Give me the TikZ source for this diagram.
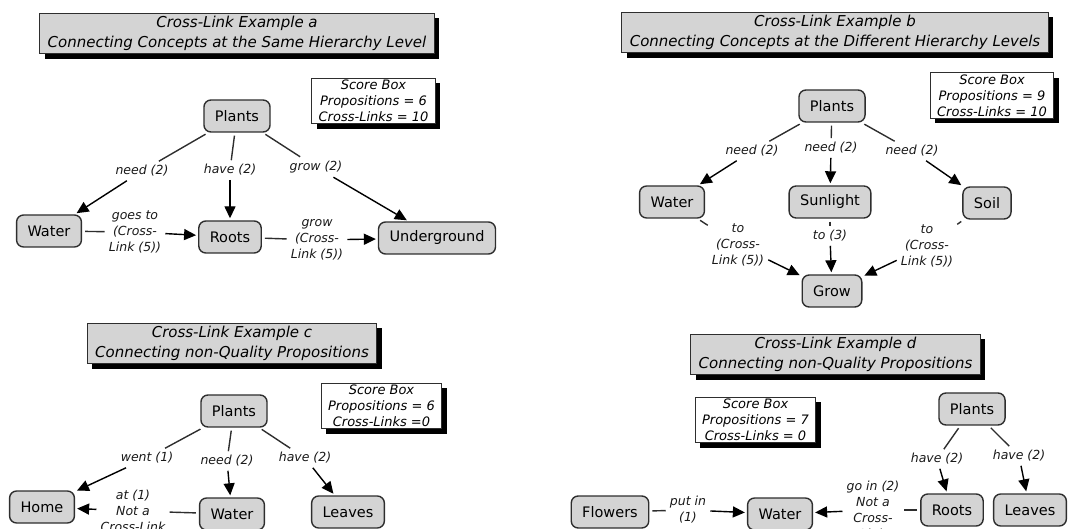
\documentclass[tikz,border=0pt]{standalone}
\usepackage{fontspec}
\setmainfont{DejaVu Sans}
\usetikzlibrary{shadows,arrows.meta}

\definecolor{conceptgray}{HTML}{D4D4D4}
\definecolor{inkgray}{HTML}{2E2E2E}

\tikzset{
	concept/.style={draw=inkgray,line width=1.4pt,fill=conceptgray,rounded corners=7pt,
		minimum height=32pt,inner xsep=11pt,text=black,font=\fontsize{14.5}{17}\selectfont},
	linking/.style={align=center,inner sep=4pt,text=black!90,font=\fontsize{12.5}{16}\selectfont\itshape},
	heading/.style={draw=inkgray,line width=1pt,fill=conceptgray,align=center,inner xsep=8pt,inner ysep=3pt,
		text=black,font=\fontsize{15}{20}\selectfont\itshape,
		drop shadow={shadow xshift=5pt,shadow yshift=-5pt,fill=black,opacity=1}},
	score/.style={draw=inkgray,line width=1pt,fill=white,align=center,inner xsep=7pt,inner ysep=2pt,
		text=black,font=\fontsize{13}{16}\selectfont\itshape,
		drop shadow={shadow xshift=5pt,shadow yshift=-5pt,fill=black,opacity=1}},
	plain/.style={draw=inkgray,line width=1.4pt,shorten <=3pt},
	arrowed/.style={draw=black,line width=1.4pt,shorten >=2pt,-{Triangle[length=12pt,width=11pt]}}
}

\begin{document}
\begin{tikzpicture}[x=1pt,y=-1pt]
	\useasboundingbox (0,0) rectangle (1080,529);
	\clip (0,0) rectangle (1080,529);

	% example a
	\node[heading] (titleA) at (237,33.5) {Cross-Link Example a\\Connecting Concepts at the Same Hierarchy Level};
	\node[score] (scoreA) at (373.5,101) {Score Box\\Propositions = 6\\Cross-Links = 10};
	\node[concept] (plantsA) at (237,116) {Plants};
	\node[concept] (waterA) at (49,231) {Water};
	\node[concept] (rootsA) at (230,237) {Roots};
	\node[concept] (undergrA) at (437,238) {Underground};
	\node[linking] (needA) at (142,171) {need (2)};
	\node[linking] (haveA) at (230,170) {have (2)};
	\node[linking] (growA) at (316,167) {grow (2)};
	\node[linking] (goesA) at (135,232) {goes to\\(Cross-\\Link (5))};
	\node[linking] (growxA) at (317,240) {grow\\(Cross-\\Link (5))};

	% example b
	\node[heading] (titleB) at (835,32.5) {Cross-Link Example b\\Connecting Concepts at the Different Hierarchy Levels};
	\node[score] (scoreB) at (992,95.5) {Score Box\\Propositions = 9\\Cross-Links = 10};
	\node[concept] (plantsB) at (832,106) {Plants};
	\node[concept] (waterB) at (672,202) {Water};
	\node[concept] (sunB) at (830,202) {Sunlight};
	\node[concept] (soilB) at (987,203) {Soil};
	\node[concept] (growB) at (832,291) {Grow};
	\node[linking] (needB) at (752,151) {need (2)};
	\node[linking] (needBB) at (831,148) {need (2)};
	\node[linking] (needBBB) at (912,151) {need (2)};
	\node[linking] (toB) at (738,245) {to\\(Cross-\\Link (5))};
	\node[linking] (toBB) at (830,236) {to (3)};
	\node[linking] (toBBB) at (927,246) {to\\(Cross-\\Link (5))};

	% example c
	\node[heading] (titleC) at (232,343.5) {Cross-Link Example c\\Connecting non-Quality Propositions};
	\node[score] (scoreC) at (381.5,406) {Score Box\\Propositions = 6\\Cross-Links =0};
	\node[concept] (plantsC) at (234,411) {Plants};
	\node[concept] (homeC) at (42,507) {Home};
	\node[concept] (waterC) at (232,514) {Water};
	\node[concept] (leavesC) at (348,512) {Leaves};
	\node[linking] (wentC) at (147,458) {went (1)};
	\node[linking] (needC) at (227,461) {need (2)};
	\node[linking] (haveC) at (305,458) {have (2)};
	\node[linking] (atC) at (133,511) {at (1)\\Not a\\Cross-Link};

	% example d
	\node[heading] (titleD) at (835.5,354.5) {Cross-Link Example d\\Connecting non-Quality Propositions};
	\node[score] (scoreD) at (755.5,420) {Score Box\\Propositions = 7\\Cross-Links = 0};
	\node[concept] (plantsD) at (972,409) {Plants};
	\node[concept] (flowersD) at (610,512) {Flowers};
	\node[concept] (waterD) at (780,514) {Water};
	\node[concept] (rootsD) at (952,510) {Roots};
	\node[concept] (leavesD) at (1030,510) {Leaves};
	\node[linking] (haveD) at (937,459) {have (2)};
	\node[linking] (haveDD) at (1019,456) {have (2)};
	\node[linking] (putD) at (688,510) {put in\\(1)};
	\node[linking] (goD) at (873,510) {go in (2)\\Not a\\Cross-\\Link};

	\foreach \from/\via/\to in {plantsA/needA/waterA,plantsA/haveA/rootsA,plantsA/growA/undergrA,
		waterA/goesA/rootsA,rootsA/growxA/undergrA,
		plantsB/needB/waterB,plantsB/needBB/sunB,plantsB/needBBB/soilB,
		waterB/toB/growB,sunB/toBB/growB,soilB/toBBB/growB,
		plantsC/wentC/homeC,plantsC/needC/waterC,plantsC/haveC/leavesC,waterC/atC/homeC,
		plantsD/haveD/rootsD,plantsD/haveDD/leavesD,flowersD/putD/waterD,rootsD/goD/waterD}
	{
		\draw[plain] (\from) -- (\via);
		\draw[arrowed] (\via) -- (\to);
	}
\end{tikzpicture}
\end{document}
